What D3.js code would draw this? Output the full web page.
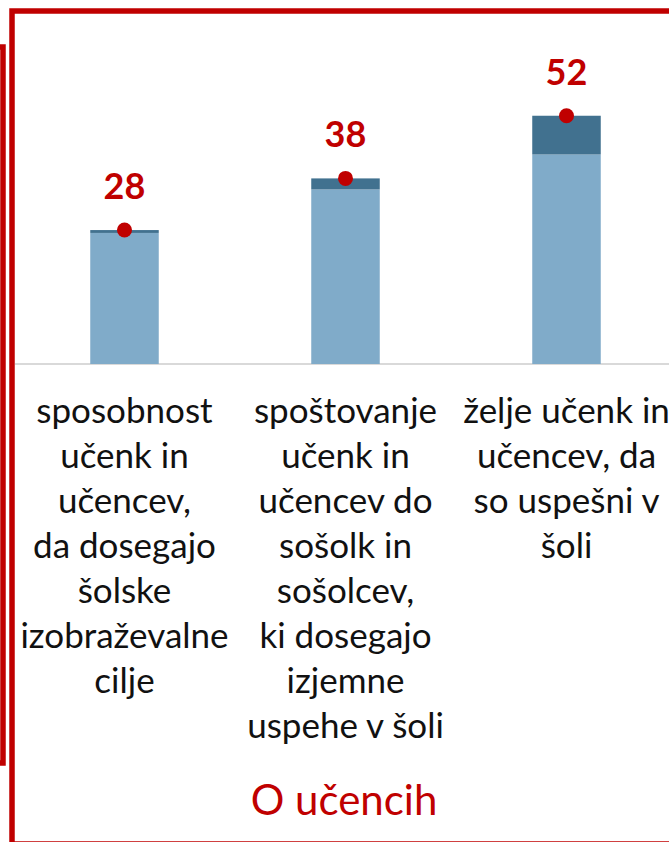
<!DOCTYPE html>
<html>
  <head>
    <meta charset="utf-8">
    <title>O učencih</title>
    <style>
      html, body { margin: 0; padding: 0; background: #fff; overflow: hidden; }
      svg { display: block; }
    </style>
  </head>
  <body>
    <script src="https://d3js.org/d3.v7.min.js"></script>
    <script type="text/javascript">
      // categories (wrapped the same way as on the slide)
      var categories = ['sposobnost', 'spoštovanje', 'želje'];
      var categoryLines = [
        ['sposobnost', 'učenk in', 'učencev,', 'da dosegajo', 'šolske', 'izobraževalne', 'cilje'],
        ['spoštovanje', 'učenk in', 'učencev do', 'sošolk in', 'sošolcev,', 'ki dosegajo', 'izjemne', 'uspehe v šoli'],
        ['želje učenk in', 'učencev, da', 'so uspešni v', 'šoli']
      ];
      // two stacked parts of each bar and the shown total
      var lightValues = [27.4, 36.5, 43.8];
      var darkValues = [0.6, 2.3, 8.1];
      var totalLabels = [28, 38, 52];
      var groupTitle = 'O učencih';

      var w = 669;
      var h = 842;
      var red = '#c00000';

      var svg = d3.select('body').append('svg').attr('width', w).attr('height', h);

      var xScale = d3.scaleBand()
        .domain(categories)
        .range([14, 677])
        .paddingInner(0.69)
        .paddingOuter(0.345);

      var yScale = d3.scaleLinear()
        .domain([0, 60])
        .range([364, 77]);

      // frames
      svg.append('rect')
        .attr('x', -100).attr('y', 47)
        .attr('width', 103).attr('height', 716)
        .attr('fill', 'none').attr('stroke', red).attr('stroke-width', 5.5);
      svg.append('rect')
        .attr('x', 12).attr('y', 11)
        .attr('width', 800).attr('height', 833)
        .attr('fill', 'none').attr('stroke', red).attr('stroke-width', 5.5);

      // base line
      svg.append('line')
        .attr('x1', 15).attr('x2', w)
        .attr('y1', yScale(0)).attr('y2', yScale(0))
        .attr('stroke', '#d9d9d9').attr('stroke-width', 2);

      var rows = categories.map(function(c, i) {
        return { cat: c, light: lightValues[i], dark: darkValues[i], label: totalLabels[i], lines: categoryLines[i] };
      });

      var g = svg.selectAll('g.cat')
        .data(rows)
        .enter()
        .append('g')
        .attr('class', 'cat');

      g.append('rect')
        .attr('x', function(d) { return xScale(d.cat); })
        .attr('width', xScale.bandwidth())
        .attr('y', function(d) { return yScale(d.light); })
        .attr('height', function(d) { return yScale(0) - yScale(d.light); })
        .attr('fill', '#80abc9');

      g.append('rect')
        .attr('x', function(d) { return xScale(d.cat); })
        .attr('width', xScale.bandwidth())
        .attr('y', function(d) { return yScale(d.light + d.dark); })
        .attr('height', function(d) { return yScale(d.light) - yScale(d.light + d.dark); })
        .attr('fill', '#41718f');

      g.append('circle')
        .attr('cx', function(d) { return xScale(d.cat) + xScale.bandwidth() / 2; })
        .attr('cy', function(d) { return yScale(d.light + d.dark); })
        .attr('r', 7.5)
        .attr('fill', red);

      g.append('text')
        .text(function(d) { return d.label; })
        .attr('x', function(d) { return xScale(d.cat) + xScale.bandwidth() / 2; })
        .attr('y', function(d) { return yScale(d.light + d.dark) - 31; })
        .attr('text-anchor', 'middle')
        .attr('font-family', 'Lato, sans-serif')
        .attr('font-weight', 'bold')
        .attr('font-size', '36px')
        .attr('fill', red);

      // category labels
      g.each(function(d) {
        var cx = xScale(d.cat) + xScale.bandwidth() / 2;
        d3.select(this).selectAll('text.lbl')
          .data(d.lines)
          .enter()
          .append('text')
          .attr('class', 'lbl')
          .text(function(t) { return t; })
          .attr('x', cx)
          .attr('y', function(t, i) { return 423 + i * 45; })
          .attr('text-anchor', 'middle')
          .attr('font-family', 'Lato, sans-serif')
          .attr('font-size', '35px')
          .attr('fill', '#111');
      });

      svg.append('text')
        .text(groupTitle)
        .attr('x', 344)
        .attr('y', 815)
        .attr('text-anchor', 'middle')
        .attr('font-family', 'Lato, sans-serif')
        .attr('font-size', '42px')
        .attr('fill', red);
    </script>
  </body>
</html>
